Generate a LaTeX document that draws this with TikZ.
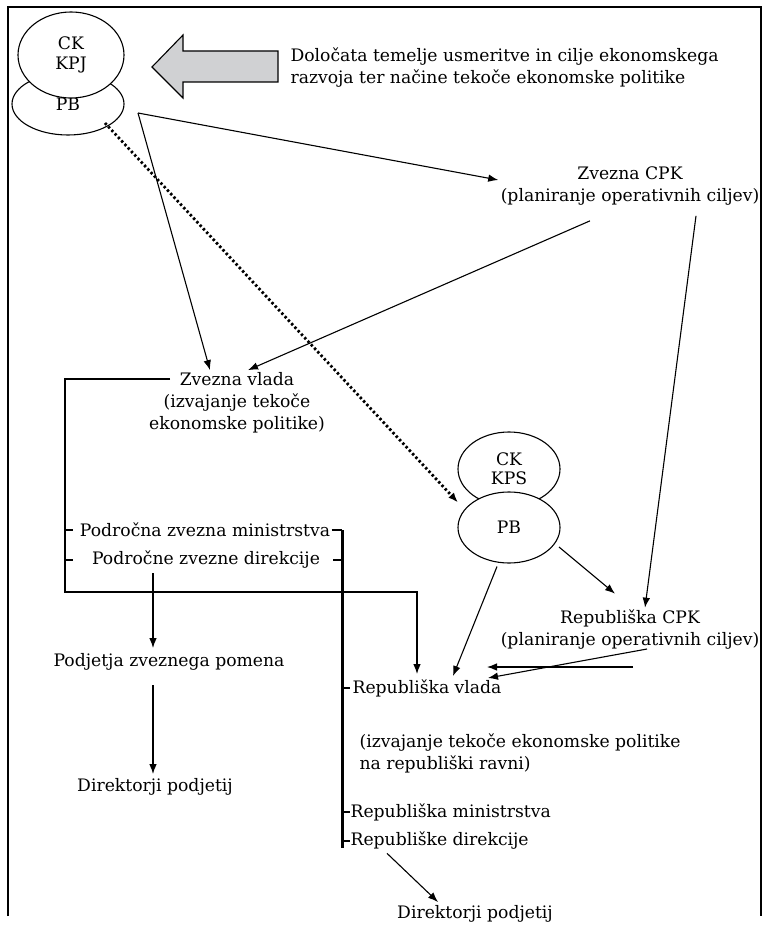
\documentclass[tikz,border=0pt]{standalone}
\usepackage{fontspec}
\setmainfont{DejaVu Serif}
\usepackage{xcolor}
\usetikzlibrary{shapes.geometric}
\usetikzlibrary{arrows.meta}
\usetikzlibrary{calc}

\definecolor{arrowgrey}{HTML}{D0D1D3}

\begin{document}
\begin{tikzpicture}[x=0.5pt, y=-0.5pt, line width=0.55pt,
    >={Latex[length=5pt,width=3.8pt]},
    font=\fontsize{8.6}{11}\selectfont,
    blob/.style={ellipse, draw, fill=white, inner sep=0pt, align=center,
        font=\fontsize{8.6}{9.6}\selectfont},
    txt/.style={inner sep=0pt, align=center},
    thickbar/.style={line width=1.5pt},
    dots/.style={line width=1.4pt, dash pattern=on 1.2pt off 1.2pt}]
    \useasboundingbox (0, 0) rectangle (763, 925);
    \draw (8, 916) -- (8, 7) -- (761, 7) -- (761, 916);

    \path (68, 104) node [blob, minimum width=56pt, minimum height=31pt] (pbkpj) {PB};
    \path (71, 55) node [blob, minimum width=53pt, minimum height=43pt] (ckkpj) {CK\\KPJ};
    \filldraw [fill=arrowgrey] (152, 67) -- (183, 35) -- (183, 51) -- (278, 51)
	-- (278, 82) -- (183, 82) -- (183, 98) -- cycle;
    \path (290, 67.5) node [txt, anchor=west, align=left] (note)
	{Določata temelje usmeritve in cilje ekonomskega\\razvoja ter načine tekoče ekonomske politike};

    \path (630, 186) node [txt] (zcpk) {Zvezna CPK\\(planiranje operativnih ciljev)};
    \path (237, 403) node [txt] (zvlada) {Zvezna vlada\\(izvajanje tekoče\\ekonomske politike)};
    \path (205, 530) node [txt] (podmin) {Področna zvezna ministrstva};
    \path (206, 560) node [txt] (poddir) {Področne zvezne direkcije};
    \path (169, 662) node [txt] (podjetja) {Podjetja zveznega pomena};
    \path (155, 787) node [txt] (dirl) {Direktorji podjetij};

    \path (509, 469) node [blob, minimum width=51pt, minimum height=37pt] (ckkps) {CK\\KPS};
    \path (509, 527.5) node [blob, minimum width=51pt, minimum height=35.5pt] (pbkps) {PB};
    \path (630, 630) node [txt] (rcpk) {Republiška CPK\\(planiranje operativnih ciljev)};
    \path (352, 688) node [txt, anchor=west] (rvlada) {Republiška vlada};
    \path (359, 753) node [txt, anchor=west, align=left] (rizv)
	{(izvajanje tekoče ekonomske politike\\na republiški ravni)};
    \path (350, 812) node [txt, anchor=west] (rmin) {Republiška ministrstva};
    \path (350, 841) node [txt, anchor=west] (rdir) {Republiške direkcije};
    \path (475, 914) node [txt] (dirr) {Direktorji podjetij};

    \coordinate (split) at (138, 113);
    \coordinate (brL) at (65, 379);
    \coordinate (brR) at (342, 530);

    \draw [->] (split) -- ($(zcpk.west) + (-2, -6)$);
    \draw [->] (split) -- ($(zvlada.north) + (-27, -2)$);
    \draw [->] ($(zcpk.south) + (-40, 15)$) -- ($(zvlada.north) + (11, -2)$);
    \draw [->] ($(zcpk.south) + (66, 10)$) -- ($(rcpk.north) + (15, -2)$);
    \draw [->, dots] ($(pbkpj) + (37, 19)$) -- ($(pbkps) + (-51, -25)$);
    \draw [->] ($(pbkps) + (50, 19.5)$) -- ($(rcpk.north) + (-15, -16)$);
    \draw [->] ($(pbkps.south) + (-12, 3)$) -- ($(rvlada.west) + (101, -12)$);
    \draw [->] ($(rcpk) + (3, 37)$) -- ($(rvlada.west) + (135, -21)$);
    \draw [->] ($(rcpk) + (17, 19)$) -- ($(rvlada.west) + (136, -10)$);

    \draw [->] ($(zvlada) + (-67, -24)$) -- (brL) |- ($(rvlada.west) + (65, -96)$)
	-- ($(rvlada.west) + (65, -14)$);
    \draw (brL |- podmin) -- ++(8, 0);
    \draw (brL |- poddir) -- ++(8, 0);
    \draw ($(podmin.east) + (1, 0)$) -- (brR);
    \draw (brR |- poddir) -- ++(-9, 0);
    \foreach \n in {rvlada, rmin, rdir}
	\draw (brR |- \n) -- ++(8, 0);
    \draw [thickbar] (brR) -- ($(brR |- rdir) + (0, 7)$);

    \draw [->] ($(poddir.south) + (-53, 4)$) -- ($(podjetja.north) + (-16, -5)$);
    \draw [->] ($(podjetja.south) + (-16, 14)$) -- ($(dirl.north) + (-2, -4)$);
    \draw [->] ($(rdir.south west) + (37, 3)$) -- ($(dirr.north) + (-37, -3)$);
\end{tikzpicture}
\end{document}
